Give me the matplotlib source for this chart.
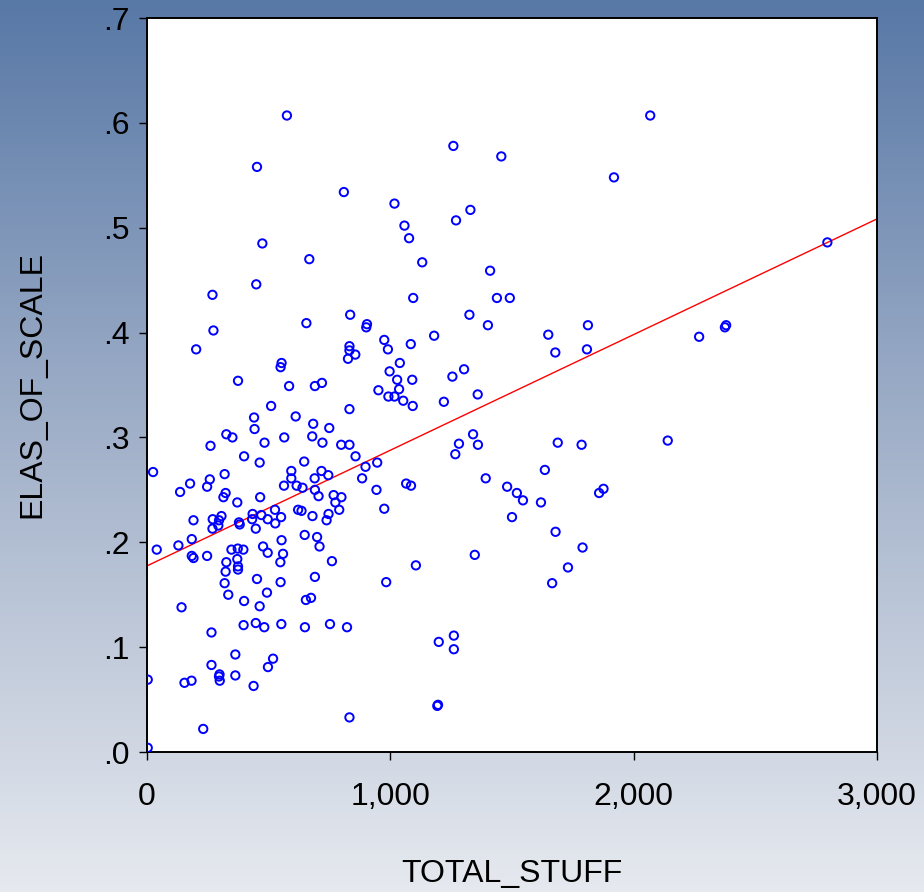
import numpy as np
import matplotlib
matplotlib.use("Agg")
import matplotlib.pyplot as plt
from matplotlib.colors import LinearSegmentedColormap

# ---- data ----
total_stuff = [
    575, 452, 809, 474, 667,
    1259, 1456, 1919, 1017, 1329, 1270, 1058, 1077, 1131, 1410,
    2068, 2796,
    449, 269, 835, 655, 904, 901, 273, 975, 990, 202, 832, 832, 856, 826, 553, 549,
    997, 374, 584, 690, 719, 951, 992, 1017, 510, 832, 440, 611, 683, 749, 442, 326,
    351, 564, 679, 483, 721, 798, 832, 261,
    1094, 1438, 1491, 1325, 1401, 1649, 1812, 1180, 1084, 1678, 1808, 1039, 1028, 1090,
    1303, 1255, 1036, 1053, 1092, 1220, 1359, 1340, 1282, 1360, 1688, 1786,
    2269, 2375, 2380, 2140,
    25, 399, 463, 646, 857, 946, 898, 319, 258, 177, 247, 136, 593, 593, 717, 745, 689,
    563, 615, 639, 884, 943, 690, 323, 314, 465, 705, 767, 799, 774, 371, 790, 975, 526,
    621, 635, 434, 470, 551, 306, 270, 296, 496, 680, 746, 738, 191, 432, 378, 381, 527,
    293, 269, 447, 648, 699, 184, 553, 40, 129, 477, 709, 347, 373, 396, 496, 559, 184,
    191, 247, 371, 760, 548, 326, 374, 374, 323, 452, 690, 983, 549, 319, 334, 493, 399,
    653, 674, 142, 463,
    1267, 1635, 1392, 1065, 1085, 1480, 1520, 1545, 1619, 1876, 1858, 1500, 1679, 1790,
    1347, 1105, 1730, 1665,
    265, 397, 447, 482, 552, 649, 752, 822, 363, 518, 497, 265, 298, 296, 299, 363, 438,
    3, 154, 183, 832, 231, 3,
    1199, 1261, 1261, 1193, 1196,
]
elas_of_scale = [
    .607, .558, .534, .485, .470,
    .578, .568, .548, .523, .517, .507, .502, .490, .467, .459,
    .607, .486,
    .446, .436, .417, .409, .408, .405, .402, .393, .384, .384, .387, .383, .379, .375, .371, .367,
    .363, .354, .349, .349, .352, .345, .339, .339, .330, .327, .319, .320, .313, .309, .308, .303,
    .300, .300, .301, .295, .295, .293, .293, .292,
    .433, .433, .433, .417, .407, .398, .407, .397, .389, .381, .384, .371, .355, .355,
    .365, .358, .346, .335, .330, .334, .341, .303, .294, .293, .295, .293,
    .396, .405, .407, .297,
    .267, .282, .276, .277, .282, .276, .272, .265, .260, .256, .253, .248, .268, .261, .268, .264, .261,
    .254, .254, .252, .261, .250, .250, .247, .243, .243, .244, .245, .243, .238, .238, .231, .232, .231,
    .231, .230, .227, .226, .224, .225, .222, .221, .222, .225, .227, .221, .221, .222, .219, .217, .218,
    .216, .213, .213, .207, .205, .203, .202, .193, .197, .196, .196, .193, .194, .193, .190, .189, .187,
    .185, .187, .184, .182, .181, .181, .177, .174, .172, .165, .167, .162, .162, .161, .150, .152, .144,
    .145, .147, .138, .139,
    .284, .269, .261, .256, .254, .253, .247, .240, .238, .251, .247, .224, .210, .195,
    .188, .178, .176, .161,
    .114, .121, .123, .119, .122, .119, .122, .119, .093, .089, .081, .083, .074, .072, .068, .073, .063,
    .069, .066, .068, .033, .022, .004,
    .105, .111, .098, .044, .045,
]

# fitted regression line
fit_intercept = 0.1775
fit_slope = 0.0001103

x_ticks = [0, 1000, 2000, 3000]
x_ticklabels = ["0", "1,000", "2,000", "3,000"]
y_ticks = [0.0, 0.1, 0.2, 0.3, 0.4, 0.5, 0.6, 0.7]
y_ticklabels = [".0", ".1", ".2", ".3", ".4", ".5", ".6", ".7"]

plt.rcParams['font.family'] = ['Liberation Sans', 'DejaVu Sans']

fig = plt.figure(figsize=(9.24, 8.92), dpi=100)

# gradient background
bg = fig.add_axes([0, 0, 1, 1], zorder=0)
cmap = LinearSegmentedColormap.from_list("bg", ["#5878a6", "#a3b2ca", "#e6e9ef"])
grad = np.linspace(0, 1, 256).reshape(-1, 1)
bg.imshow(grad, aspect="auto", cmap=cmap, extent=[0, 1, 0, 1], origin="upper")
bg.axis("off")

ax = fig.add_axes([147/924, (892-752)/892, 730/924, 734/892], zorder=1)
ax.set_facecolor("white")

ax.scatter(total_stuff, elas_of_scale, s=6.0**2, facecolors="none",
           edgecolors="#0000ff", linewidths=1.4, zorder=3)

xl = np.array([0, 3000])
ax.plot(xl, fit_intercept + fit_slope * xl, color="#ff0000", lw=1.0, zorder=2)

ax.set_xlim(0, 3000)
ax.set_ylim(0, 0.7)
ax.set_xticks(x_ticks)
ax.set_xticklabels(x_ticklabels)
ax.set_yticks(y_ticks)
ax.set_yticklabels(y_ticklabels)
ax.tick_params(axis="both", direction="out", length=5.5, width=1.0,
               labelsize=23, colors="black")
ax.tick_params(axis="x", pad=16)
ax.tick_params(axis="y", pad=7)
for s in ax.spines.values():
    s.set_linewidth(1.4)
    s.set_color("black")

ax.set_xlabel("TOTAL_STUFF", fontsize=23, labelpad=34)
ax.set_ylabel("ELAS_OF_SCALE", fontsize=23, labelpad=40)

fig.savefig("out.png", dpi=100)
